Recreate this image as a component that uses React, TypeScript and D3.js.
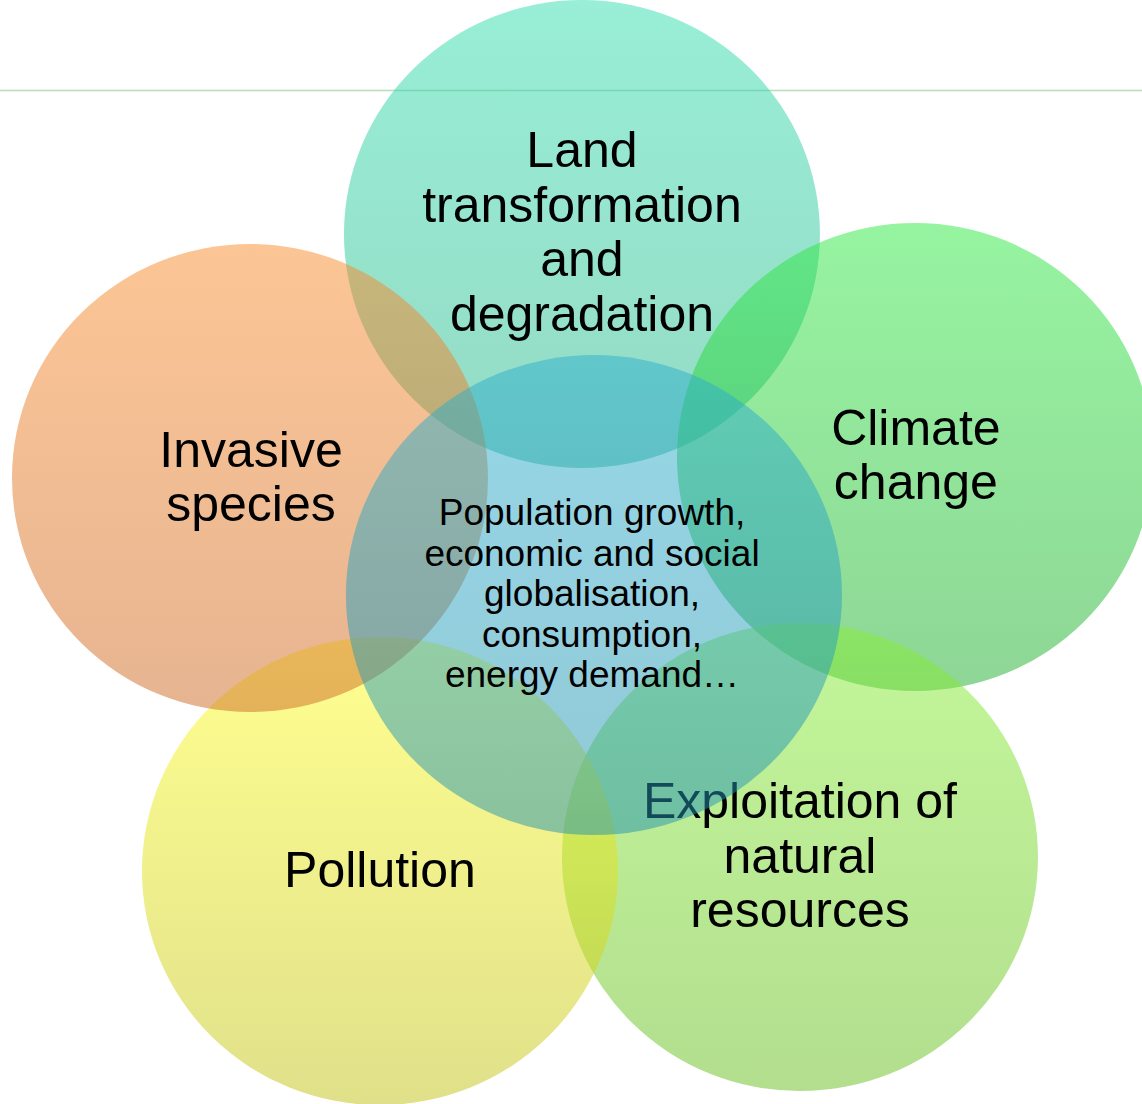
import React from "react";
import * as d3 from "d3";

// circle names, in drawing order (the centre one goes last)
const names = ["land", "climate", "exploitation", "pollution", "invasive", "drivers"];
// label lines per circle
const labels = [
  ["Land", "transformation", "and", "degradation"],
  ["Climate", "change"],
  ["Exploitation of", "natural", "resources"],
  ["Pollution"],
  ["Invasive", "species"],
  ["Population growth,", "economic and social", "globalisation,", "consumption,", "energy demand…"],
];
// centres in layout units (0..100 across, 0..100 down)
const centreX = [50.96, 80.12, 70.05, 33.27, 21.89, 52.01];
const centreY = [21.2, 41.4, 77.63, 78.9, 43.3, 53.9];
// radii in layout units
const radiusX = [20.84, 20.84, 20.84, 20.84, 20.84, 21.72];
const radiusY = [21.2, 21.2, 21.2, 21.2, 21.2, 21.74];
// label baseline of first line, layout units
const labelTop = [15.13, 40.3, 74.1, 80.35, 42.3, 47.55];
const labelX = [50.96, 80.2, 70.05, 33.27, 21.98, 51.84];
// gradient top / bottom colours (drawn at half opacity)
const topColors = ["#31ddad", "#2de941", "#87ef35", "#ffff1f", "#f98b2b", "#2dafcd"];
const bottomColors = ["#29b589", "#1dad2d", "#65bd1d", "#c1c115", "#cd6923", "#2391af"];

const W = 1142;
const H = 1104;

export default function App() {
  const x = d3.scaleLinear().domain([0, 100]).range([0, W]);
  const y = d3.scaleLinear().domain([0, 100]).range([0, H]);
  const rx = (v: number) => x(v) - x(0);
  const ry = (v: number) => y(v) - y(0);

  return (
    <svg
      width={W}
      height={H}
      style={{ position: "absolute", left: 0, top: 0, display: "block", background: "#fff" }}
      fontFamily="'Liberation Sans', Arial, sans-serif"
    >
      <defs>
        {names.map((n, i) => (
          <linearGradient key={n} id={`g-${n}`} x1="0" y1="0" x2="0" y2="1">
            <stop offset="0" stopColor={topColors[i]} stopOpacity={0.5} />
            <stop offset="1" stopColor={bottomColors[i]} stopOpacity={0.5} />
          </linearGradient>
        ))}
      </defs>
      <line x1={0} x2={W} y1={y(8.2)} y2={y(8.2)} stroke="#b9dcbd" strokeWidth={1.5} />
      {names.map((n, i) => {
        const big = i < names.length - 1;
        const fs = big ? 50 : 37;
        const lh = big ? 54.5 : 40.6;
        return (
          <g key={n}>
            <ellipse
              cx={x(centreX[i])}
              cy={y(centreY[i])}
              rx={rx(radiusX[i])}
              ry={ry(radiusY[i])}
              fill={`url(#g-${n})`}
            />
            <text x={x(labelX[i])} y={y(labelTop[i])} fontSize={fs} textAnchor="middle" fill="#000">
              {labels[i].map((l, j) => (
                <tspan key={j} x={x(labelX[i])} dy={j === 0 ? 0 : lh}>
                  {l}
                </tspan>
              ))}
            </text>
          </g>
        );
      })}
    </svg>
  );
}
